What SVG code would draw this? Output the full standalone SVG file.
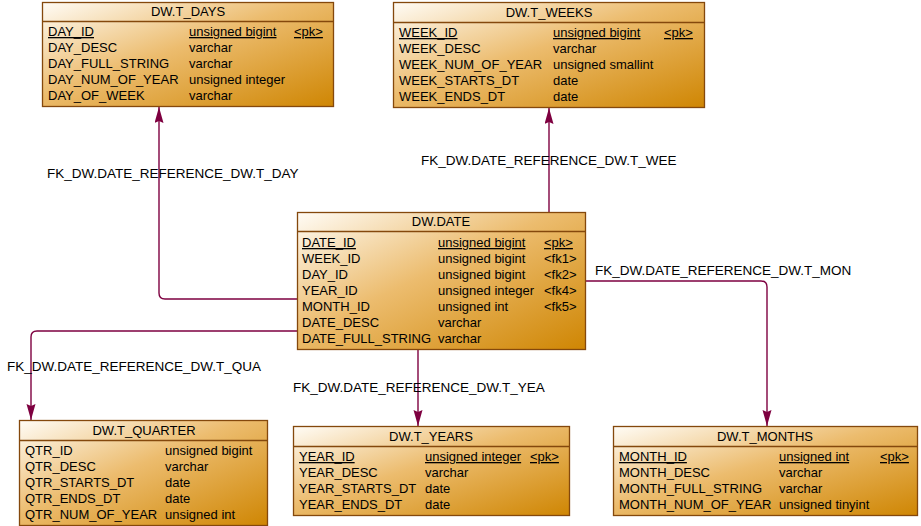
<svg xmlns="http://www.w3.org/2000/svg" width="921" height="526" viewBox="0 0 921 526">
<style>
  text { font-family: "Liberation Sans", Arial, sans-serif; font-size: 13px; fill: #000; }
  .lbl { font-size: 13.5px; }
  .title { text-anchor: middle; }
  .pk { text-decoration: underline; }
  .box { fill: url(#g); stroke: #84480c; stroke-width: 1.3; }
  .sep { stroke: #84480c; stroke-width: 1.3; }
  .conn { fill: none; stroke: #7e0040; stroke-width: 1.4; marker-end: url(#arr); }
</style>
<defs>
  <linearGradient id="g" x1="0" y1="0" x2="1" y2="1">
    <stop offset="0" stop-color="#fffcf6"/>
    <stop offset="0.45" stop-color="#ecbc6e"/>
    <stop offset="1" stop-color="#cf8603"/>
  </linearGradient>
  <marker id="arr" markerUnits="userSpaceOnUse" markerWidth="17" markerHeight="10" refX="16" refY="4.5" orient="auto">
    <path d="M0,0 L16,4.5 L0,9 L2,4.5 z" fill="#7e0040"/>
  </marker>
</defs>

<g id="connectors">
  <path class="conn" d="M297,299 H165 Q159,299 159,293 V107"/>
  <path class="conn" d="M549,212 V108"/>
  <path class="conn" d="M585,281 H761 Q767,281 767,287 V426"/>
  <path class="conn" d="M297,331 H37 Q31,331 31,337 V420"/>
  <path class="conn" d="M418,349 V426"/>
  <text class="lbl" x="47" y="178">FK_DW.DATE_REFERENCE_DW.T_DAY</text>
  <text class="lbl" x="421" y="165">FK_DW.DATE_REFERENCE_DW.T_WEE</text>
  <text class="lbl" x="595" y="275">FK_DW.DATE_REFERENCE_DW.T_MON</text>
  <text class="lbl" x="7" y="371">FK_DW.DATE_REFERENCE_DW.T_QUA</text>
  <text class="lbl" x="293" y="392">FK_DW.DATE_REFERENCE_DW.T_YEA</text>
</g>

<g id="t_days">
  <rect class="box" x="42.5" y="2.5" width="291" height="104"/>
  <line class="sep" x1="42.5" y1="21.5" x2="333.5" y2="21.5"/>
  <text class="title" x="188" y="16">DW.T_DAYS</text>
  <text class="pk" x="48" y="36">DAY_ID</text><text class="pk" x="189" y="36">unsigned bigint</text><text class="pk" x="294" y="36">&lt;pk&gt;</text>
  <text x="48" y="52">DAY_DESC</text><text x="189" y="52">varchar</text>
  <text x="48" y="68">DAY_FULL_STRING</text><text x="189" y="68">varchar</text>
  <text x="48" y="84">DAY_NUM_OF_YEAR</text><text x="189" y="84">unsigned integer</text>
  <text x="48" y="100">DAY_OF_WEEK</text><text x="189" y="100">varchar</text>
</g>

<g id="t_weeks">
  <rect class="box" x="393.5" y="2.5" width="311" height="105"/>
  <line class="sep" x1="393.5" y1="22.5" x2="704.5" y2="22.5"/>
  <text class="title" x="549" y="17">DW.T_WEEKS</text>
  <text class="pk" x="399" y="37">WEEK_ID</text><text class="pk" x="553" y="37">unsigned bigint</text><text class="pk" x="664" y="37">&lt;pk&gt;</text>
  <text x="399" y="53">WEEK_DESC</text><text x="553" y="53">varchar</text>
  <text x="399" y="69">WEEK_NUM_OF_YEAR</text><text x="553" y="69">unsigned smallint</text>
  <text x="399" y="85">WEEK_STARTS_DT</text><text x="553" y="85">date</text>
  <text x="399" y="101">WEEK_ENDS_DT</text><text x="553" y="101">date</text>
</g>

<g id="dw_date">
  <rect class="box" x="297.5" y="212.5" width="288" height="137"/>
  <line class="sep" x1="297.5" y1="231.5" x2="585.5" y2="231.5"/>
  <text class="title" x="441" y="226">DW.DATE</text>
  <text class="pk" x="302" y="247">DATE_ID</text><text class="pk" x="438" y="247">unsigned bigint</text><text class="pk" x="544" y="247">&lt;pk&gt;</text>
  <text x="302" y="263">WEEK_ID</text><text x="438" y="263">unsigned bigint</text><text x="544" y="263">&lt;fk1&gt;</text>
  <text x="302" y="279">DAY_ID</text><text x="438" y="279">unsigned bigint</text><text x="544" y="279">&lt;fk2&gt;</text>
  <text x="302" y="295">YEAR_ID</text><text x="438" y="295">unsigned integer</text><text x="544" y="295">&lt;fk4&gt;</text>
  <text x="302" y="311">MONTH_ID</text><text x="438" y="311">unsigned int</text><text x="544" y="311">&lt;fk5&gt;</text>
  <text x="302" y="327">DATE_DESC</text><text x="438" y="327">varchar</text>
  <text x="302" y="343">DATE_FULL_STRING</text><text x="438" y="343">varchar</text>
</g>

<g id="t_quarter">
  <rect class="box" x="19.5" y="420.5" width="248" height="105"/>
  <line class="sep" x1="19.5" y1="440.5" x2="267.5" y2="440.5"/>
  <text class="title" x="144" y="435">DW.T_QUARTER</text>
  <text x="25" y="455">QTR_ID</text><text x="165" y="455">unsigned bigint</text>
  <text x="25" y="471">QTR_DESC</text><text x="165" y="471">varchar</text>
  <text x="25" y="487">QTR_STARTS_DT</text><text x="165" y="487">date</text>
  <text x="25" y="503">QTR_ENDS_DT</text><text x="165" y="503">date</text>
  <text x="25" y="519">QTR_NUM_OF_YEAR</text><text x="165" y="519">unsigned int</text>
</g>

<g id="t_years">
  <rect class="box" x="293.5" y="426.5" width="276" height="89"/>
  <line class="sep" x1="293.5" y1="446.5" x2="569.5" y2="446.5"/>
  <text class="title" x="431" y="441">DW.T_YEARS</text>
  <text class="pk" x="299" y="461">YEAR_ID</text><text class="pk" x="425" y="461">unsigned integer</text><text class="pk" x="530" y="461">&lt;pk&gt;</text>
  <text x="299" y="477">YEAR_DESC</text><text x="425" y="477">varchar</text>
  <text x="299" y="493">YEAR_STARTS_DT</text><text x="425" y="493">date</text>
  <text x="299" y="509">YEAR_ENDS_DT</text><text x="425" y="509">date</text>
</g>

<g id="t_months">
  <rect class="box" x="613.5" y="426.5" width="304" height="89"/>
  <line class="sep" x1="613.5" y1="446.5" x2="917.5" y2="446.5"/>
  <text class="title" x="765" y="441">DW.T_MONTHS</text>
  <text class="pk" x="619" y="461">MONTH_ID</text><text class="pk" x="779" y="461">unsigned int</text><text class="pk" x="880" y="461">&lt;pk&gt;</text>
  <text x="619" y="477">MONTH_DESC</text><text x="779" y="477">varchar</text>
  <text x="619" y="493">MONTH_FULL_STRING</text><text x="779" y="493">varchar</text>
  <text x="619" y="509">MONTH_NUM_OF_YEAR</text><text x="779" y="509">unsigned tinyint</text>
</g>
</svg>
